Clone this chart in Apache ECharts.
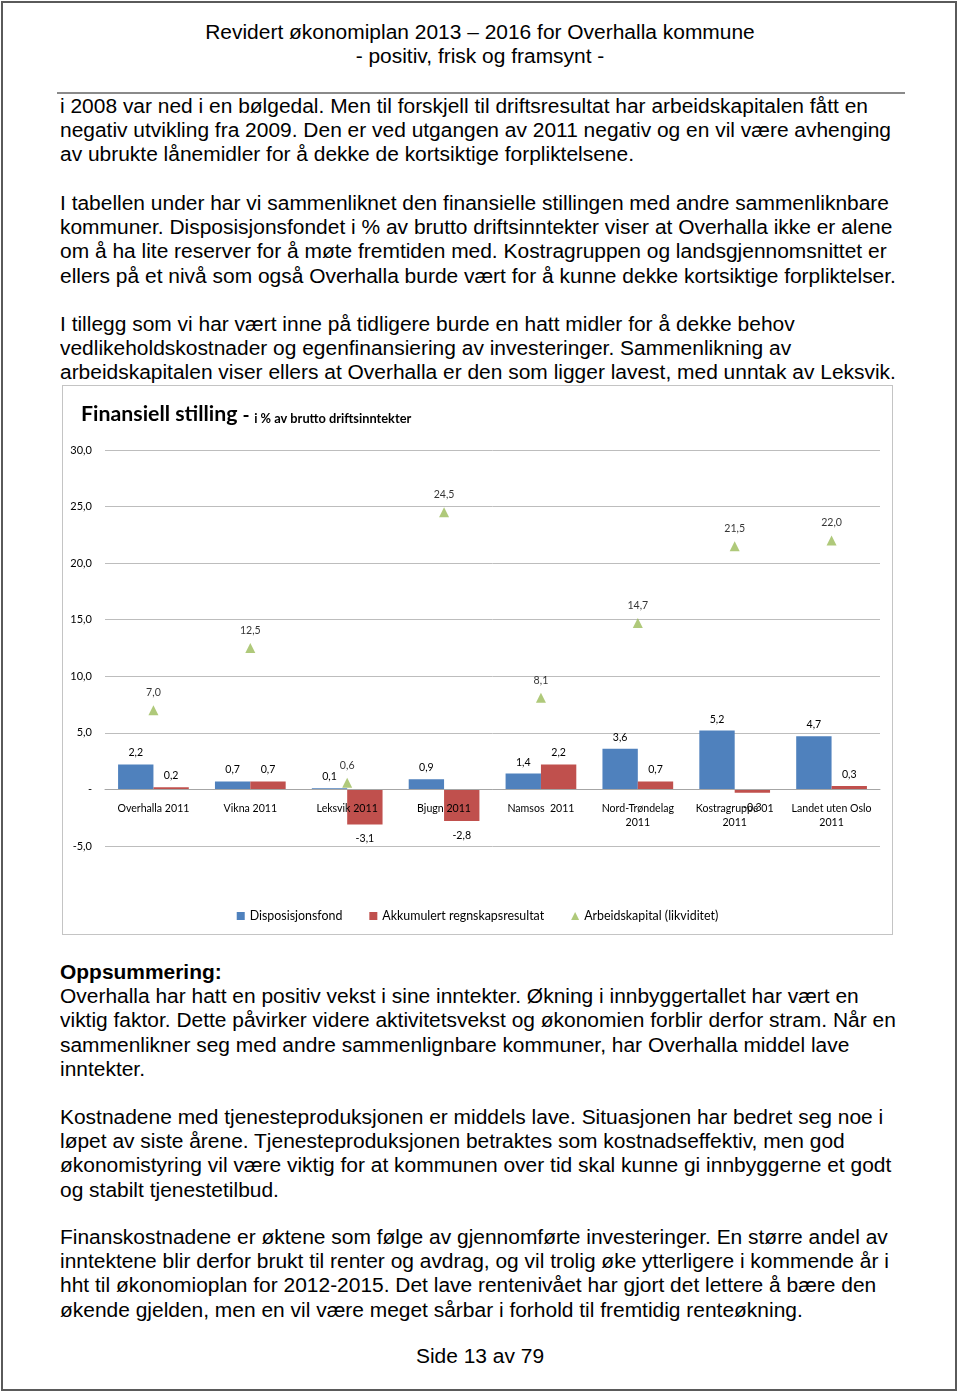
<!DOCTYPE html>
<html><head><meta charset="utf-8">
<script src="https://cdn.jsdelivr.net/npm/echarts/dist/echarts.min.js"></script>
<style>
html,body{margin:0;padding:0;background:#fff;}
#page{position:relative;width:960px;height:1393px;overflow:hidden;background:#fff;}
#frame{position:absolute;left:1px;top:1px;width:956px;height:1390px;border:2px solid #5a5a5a;box-sizing:border-box;}
.p{position:absolute;left:60px;font-family:"Liberation Sans",Arial,sans-serif;font-size:20px;line-height:24.2px;color:#000;white-space:nowrap;transform-origin:0 0;}
.c{position:absolute;left:0;width:960px;text-align:center;font-family:"Liberation Sans",Arial,sans-serif;font-size:20px;line-height:24px;color:#000;white-space:nowrap;transform-origin:480px 0;}
#rule{position:absolute;left:57px;top:92px;width:848px;height:2px;background:#8a8a8a;}
#chartbox{position:absolute;left:62px;top:385px;width:831px;height:550px;border:1px solid #c4c4c4;box-sizing:border-box;}
#chart{position:absolute;left:63px;top:386px;width:829px;height:548px;}
b{font-weight:bold;}
</style></head>
<body>
<div id="page">
<div id="frame"></div>
<div class="c" style="top:20px">Revidert økonomiplan 2013 – 2016 for Overhalla kommune</div>
<div class="c" style="top:44px">- positiv, frisk og framsynt -</div>
<div id="rule"></div>

<div class="p" style="top:94px">
<div id="ref">i 2008 var ned i en bølgedal. Men til forskjell til driftsresultat har arbeidskapitalen fått en</div>
<div>negativ utvikling fra 2009. Den er ved utgangen av 2011 negativ og en vil være avhenging</div>
<div>av ubrukte lånemidler for å dekke de kortsiktige forpliktelsene.</div>
</div>
<div class="p" style="top:191px">
<div>I tabellen under har vi sammenliknet den finansielle stillingen med andre sammenliknbare</div>
<div>kommuner. Disposisjonsfondet i % av brutto driftsinntekter viser at Overhalla ikke er alene</div>
<div>om å ha lite reserver for å møte fremtiden med. Kostragruppen og landsgjennomsnittet er</div>
<div>ellers på et nivå som også Overhalla burde vært for å kunne dekke kortsiktige forpliktelser.</div>
</div>
<div class="p" style="top:312px">
<div>I tillegg som vi har vært inne på tidligere burde en hatt midler for å dekke behov</div>
<div>vedlikeholdskostnader og egenfinansiering av investeringer. Sammenlikning av</div>
<div>arbeidskapitalen viser ellers at Overhalla er den som ligger lavest, med unntak av Leksvik.</div>
</div>

<div id="chartbox"></div>
<div id="chart"></div>

<div class="p" style="top:960px">
<div><b>Oppsummering:</b></div>
<div>Overhalla har hatt en positiv vekst i sine inntekter. Økning i innbyggertallet har vært en</div>
<div>viktig faktor. Dette påvirker videre aktivitetsvekst og økonomien forblir derfor stram. Når en</div>
<div>sammenlikner seg med andre sammenlignbare kommuner, har Overhalla middel lave</div>
<div>inntekter.</div>
</div>
<div class="p" style="top:1105px">
<div>Kostnadene med tjenesteproduksjonen er middels lave. Situasjonen har bedret seg noe i</div>
<div>løpet av siste årene. Tjenesteproduksjonen betraktes som kostnadseffektiv, men god</div>
<div>økonomistyring vil være viktig for at kommunen over tid skal kunne gi innbyggerne et godt</div>
<div>og stabilt tjenestetilbud.</div>
</div>
<div class="p" style="top:1225px">
<div>Finanskostnadene er øktene som følge av gjennomførte investeringer. En større andel av</div>
<div>inntektene blir derfor brukt til renter og avdrag, og vil trolig øke ytterligere i kommende år i</div>
<div>hht til økonomioplan for 2012-2015. Det lave rentenivået har gjort det lettere å bære den</div>
<div>økende gjelden, men en vil være meget sårbar i forhold til fremtidig renteøkning.</div>
</div>
<div class="c" style="top:1344px">Side 13 av 79</div>
</div>

<script>
// ---- data ----
const categories = ['Overhalla 2011','Vikna 2011','Leksvik 2011','Bjugn 2011','Namsos  2011','Nord-Trøndelag\n2011','Kostragruppe 01\n2011','Landet uten Oslo\n2011'];
const disposisjonsfond = [2.2, 0.7, 0.1, 0.9, 1.4, 3.6, 5.2, 4.7];
const akkumulert = [0.2, 0.7, -3.1, -2.8, 2.2, 0.7, -0.3, 0.3];
const arbeidskapital = [7.0, 12.5, 0.6, 24.5, 8.1, 14.7, 21.5, 22.0];
const seriesNames = ['Disposisjonsfond','Akkumulert regnskapsresultat','Arbeidskapital (likviditet)'];
const yMin = -5, yMax = 30, yStep = 5;

// ---- text scaling (condensed Arial look) ----
(function(){
  const ref = document.getElementById('ref');
  const range = document.createRange(); range.selectNodeContents(ref);
  const w = range.getBoundingClientRect().width;
  const s = 808 / w;
  document.querySelectorAll('.p,.c').forEach(el => { el.style.transform = 'scaleX(' + s + ')'; });
})();

const fmt = v => v === 0 ? '-' : v.toFixed(1).replace('.', ',');
const FONT = 'Lato, "Open Sans", sans-serif';
const FS = 10.6;

function barData(arr){
  return arr.map(v => ({ value: v, label: { position: v < 0 ? 'bottom' : 'top', distance: v < 0 ? 9 : 6 } }));
}

const chart = echarts.init(document.getElementById('chart'), null, {renderer:'canvas'});
chart.setOption({
  animation: false,
  backgroundColor: '#fff',
  title: {
    left: 13, top: 9,
    text: '{a|Finansiell stilling} {b|- }{c|i % av brutto driftsinntekter}',
    textStyle: {
      rich: {
        a: {fontFamily: FONT, fontWeight: 'bold', fontSize: 21.3, color: '#000', lineHeight: 25, verticalAlign: 'bottom'},
        b: {fontFamily: FONT, fontWeight: 'bold', fontSize: 19, color: '#000', lineHeight: 23, verticalAlign: 'bottom'},
        c: {fontFamily: FONT, fontWeight: 'bold', fontSize: 12.8, color: '#000', lineHeight: 18.5, verticalAlign: 'bottom'}
      }
    }
  },
  legend: {
    top: 519, left: 'center',
    itemWidth: 8, itemHeight: 8, itemGap: 27,
    textStyle: {fontFamily: FONT, fontSize: 12.4, color: '#000'},
    data: [
      {name: seriesNames[0], icon: 'rect'},
      {name: seriesNames[1], icon: 'rect'},
      {name: seriesNames[2], icon: 'triangle'}
    ]
  },
  grid: {left: 42, right: 12, top: 64, bottom: 88},
  xAxis: {
    type: 'category', data: categories, z: 5,
    axisLine: {onZero: false, lineStyle: {color: '#a6a6a6', width: 1}},
    axisTick: {show: false},
    axisLabel: {interval: 0, margin: 12, fontFamily: FONT, fontSize: FS, color: '#000', lineHeight: 14}
  },
  yAxis: {
    type: 'value', min: yMin, max: yMax, interval: yStep,
    axisLine: {show: false}, axisTick: {show: false},
    splitLine: {lineStyle: {color: '#bdbdbd', width: 1}},
    axisLabel: {margin: 13, fontFamily: FONT, fontSize: 11, color: '#000', formatter: fmt}
  },
  series: [
    {name: seriesNames[0], type: 'bar', data: barData(disposisjonsfond), barGap: '0%', barCategoryGap: '27%',
     itemStyle: {color: '#4F81BD'},
     label: {show: true, fontFamily: FONT, fontSize: FS, color: '#000', formatter: p => fmt(p.value)}},
    {name: seriesNames[1], type: 'bar', data: barData(akkumulert), barGap: '0%', barCategoryGap: '27%',
     itemStyle: {color: '#C0504D'},
     label: {show: true, fontFamily: FONT, fontSize: FS, color: '#000', formatter: p => fmt(p.value)}},
    {name: seriesNames[2], type: 'scatter', data: arbeidskapital, symbol: 'triangle', symbolSize: 10, z: 6,
     itemStyle: {color: '#9BBB59'},
     label: {show: true, position: 'top', distance: 7, fontFamily: FONT, fontSize: FS, color: '#000', formatter: p => fmt(p.value)}}
  ]
});
// move the category axis (line + labels) up to the zero line, using the value axis scale
const zeroPx = chart.convertToPixel({yAxisIndex: 0}, 0);
const minPx = chart.convertToPixel({yAxisIndex: 0}, yMin);
chart.setOption({xAxis: {offset: zeroPx - minPx}});
</script>
</body></html>
